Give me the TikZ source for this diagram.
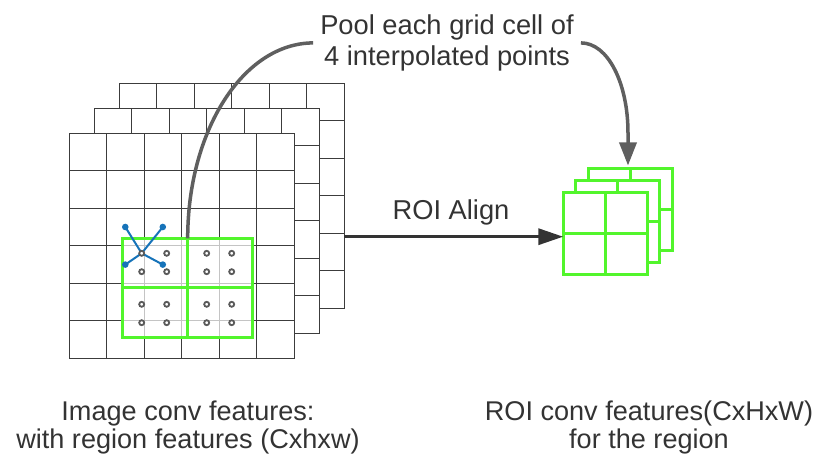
\documentclass[tikz,border=0pt]{standalone}
\usepackage{fontspec}
\setmainfont{Liberation Sans}
\usetikzlibrary{arrows.meta}
\definecolor{txt}{HTML}{333333}
\definecolor{gridc}{HTML}{3C3C3C}
\definecolor{grn}{RGB}{82,245,44}
\definecolor{conn}{HTML}{5F5F5F}
\definecolor{ptc}{HTML}{5A5A5A}
\definecolor{bluex}{RGB}{22,115,185}
\begin{document}
\begin{tikzpicture}[x=1pt,y=1pt,
  lbl/.style={text=txt, font=\fontsize{27.3pt}{31.4pt}\selectfont, inner sep=0pt, align=center},
  caplbl/.style={text=txt, font=\fontsize{27.1pt}{27.5pt}\selectfont, inner sep=0pt, align=center},
  gridline/.style={draw=gridc, line width=1.3pt},
  gline/.style={draw=grn, line width=2.8pt},
  gsq/.style={draw=grn, line width=2.8pt, fill=white, minimum width=84pt, minimum height=82pt, outer sep=0pt, inner sep=0pt},
  regionbox/.style={draw=grn, line width=2.7pt, fill=white, fill opacity=0.7, minimum width=130pt, minimum height=99pt, inner sep=0pt, outer sep=0pt},
  ptring/.style={draw=ptc, line width=1.8pt, fill=white},
  bluel/.style={draw=bluex, line width=2pt},
  connline/.style={draw=conn, line width=3.5pt},
  mainarrow/.style={draw=txt, line width=3.3pt, -{Triangle[length=25pt,width=16pt]}},
]
\useasboundingbox (0,0) rectangle (817,456);

% stacked feature grids (back to front)
\foreach \d in {50,25,0} {
  \begin{scope}[shift={(69.3+\d,97.7+\d)}]
    \fill[white] (0,0) rectangle (225,225);
    \draw[gridline] (0,0) grid[step=37.5] (225,225);
    \draw[gridline] (0,0) rectangle (225,225);
  \end{scope}
}

% region of interest
\node[regionbox] (region) at (187.7,168.2) {};
\draw[gline, line width=2.7pt] (region.north) -- (region.south) (region.west) -- (region.east);

% bilinear interpolation: spokes from a sampling point to the 4 nearest cell centres
\coordinate (sp) at (141.7,202.7);
\foreach \p in {(125.3,229),(162.8,229),(125.3,191.4),(162.8,191.4)} {
  \draw[bluel] (sp) -- \p;
  \fill[bluex] \p circle (3.3pt);
}

% sampling points
\foreach \x in {141.7,166.7,206.7,231.7}
  \foreach \y in {202.7,184.3,151.7,133.3}
    \draw[ptring] (\x,\y) circle (2.5pt);

% ROI output features (back to front)
\node[gsq] (back) at (630.3,246.8) {};
\draw[gline] (back.north) -- (back.south) (back.west) -- (back.east);
\node[gsq] (mid) at (617.8,234.5) {};
\draw[gline] (mid.north) -- (mid.south) (mid.west) -- (mid.east);
\node[gsq] (front) at (605.3,222.2) {};
\draw[gline] (front.north) -- (front.south) (front.west) -- (front.east);

% labels
\node[lbl, inner xsep=7pt] (pool) at (447,413.1) {Pool each grid cell of\\4 interpolated points};
\node[lbl, anchor=base] (roi) at (451,236.7) {ROI Align};
\node[caplbl] (capL) at (188,28.3) {Image conv features:\\with region features (Cxhxw)};
\node[caplbl] (capR) at (649,28.7) {ROI conv features(CxHxW)\\for the region};

% main arrow
\coordinate (gridR) at (344.3,219.3);
\draw[mainarrow] (gridR) -- (gridR -| front.west);

% curved connector through the label
\draw[connline] (region.north) .. controls (187.7,325.4) and (243.2,412.7) .. (pool.west);
\coordinate (tip) at (628,290.5);
\draw[connline, -{Triangle[length=23pt,width=17pt]}] (pool.east) .. controls (608,413.1) and (628,372.7) .. (628,323) -- (tip);
\end{tikzpicture}
\end{document}
